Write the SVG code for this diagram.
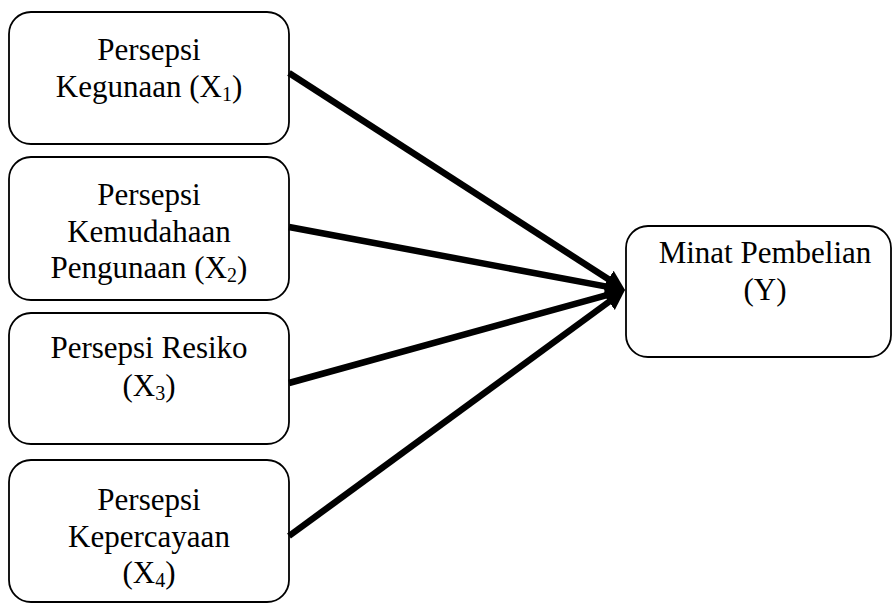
<svg xmlns="http://www.w3.org/2000/svg" width="892" height="605" viewBox="0 0 892 605">
<defs>
<marker id="ah" viewBox="0 -11 20 22" refX="4" refY="0" markerWidth="20" markerHeight="22" markerUnits="userSpaceOnUse" orient="auto">
<path d="M0,-10 L20,0 L0,10 Z" fill="#000"/>
</marker>
<style>
.box{fill:#fff;stroke:#000;stroke-width:1.8}
.t{font-size:31px;fill:#000;text-anchor:middle}
.s{font-size:20px}
.c{stroke:#000;stroke-width:6.5;fill:none;marker-end:url(#ah)}
</style>
</defs>
<rect width="892" height="605" fill="#fff"/>
<g font-family="'Liberation Serif', 'DejaVu Serif', serif">
<g id="x1">
<rect class="box" x="9" y="12" width="280" height="132" rx="22"/>
<text class="t" x="149" y="60">Persepsi</text>
<text class="t" x="149" y="97">Kegunaan (X<tspan class="s" dy="4">1</tspan><tspan dy="-4">)</tspan></text>
</g>
<g id="x2">
<rect class="box" x="9" y="157" width="280" height="143" rx="22"/>
<text class="t" x="149" y="205">Persepsi</text>
<text class="t" x="149" y="242">Kemudahaan</text>
<text class="t" x="149" y="278">Pengunaan (X<tspan class="s" dy="4">2</tspan><tspan dy="-4">)</tspan></text>
</g>
<g id="x3">
<rect class="box" x="9" y="313" width="280" height="131" rx="22"/>
<text class="t" x="149" y="358">Persepsi Resiko</text>
<text class="t" x="149" y="396">(X<tspan class="s" dy="4">3</tspan><tspan dy="-4">)</tspan></text>
</g>
<g id="x4">
<rect class="box" x="9" y="460" width="280" height="142" rx="22"/>
<text class="t" x="149" y="510">Persepsi</text>
<text class="t" x="149" y="547">Kepercayaan</text>
<text class="t" x="149" y="583">(X<tspan class="s" dy="4">4</tspan><tspan dy="-4">)</tspan></text>
</g>
<g id="y">
<rect class="box" x="626" y="226" width="265" height="131" rx="22"/>
<text class="t" x="765" y="263">Minat Pembelian</text>
<text class="t" x="765" y="300">(Y)</text>
</g>
</g>
<g id="connectors">
<line class="c" x1="289" y1="73" x2="611.6" y2="281.3"/>
<line class="c" x1="289" y1="227" x2="609.3" y2="287.1"/>
<line class="c" x1="289" y1="383" x2="609.6" y2="294.3"/>
<line class="c" x1="289" y1="536" x2="612.1" y2="299.5"/>
</g>
</svg>
